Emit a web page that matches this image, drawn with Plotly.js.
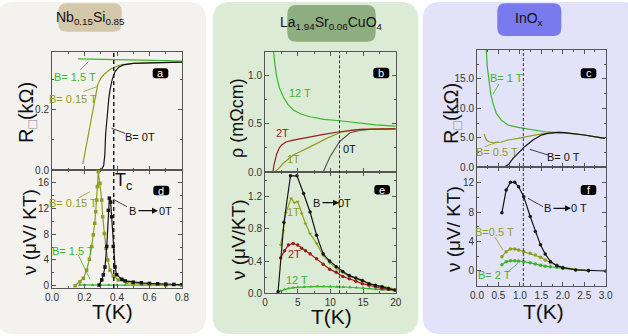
<!DOCTYPE html>
<html><head><meta charset="utf-8">
<script src="https://cdn.plot.ly/plotly-3.0.1.min.js"></script>
<style>html,body{margin:0;padding:0;background:#fff}#g{width:628px;height:336px}</style>
</head><body><div id="g"></div>
<script>
// ---------- data: panel a (Nb0.15Si0.85, R vs T) ----------
const a_T_0T   = [0.16,0.28,0.305,0.318,0.325,0.33,0.34,0.35,0.357,0.37,0.388,0.41,0.44,0.5,0.6,0.7,0.8];
const a_R_0T   = [0,0,0.002,0.015,0.05,0.12,0.19,0.24,0.267,0.3,0.328,0.342,0.35,0.355,0.357,0.358,0.359];
const a_T_015T = [0.19,0.21,0.23,0.25,0.265,0.28,0.29,0.30,0.32,0.34,0.36,0.39,0.43,0.5,0.6,0.7,0.8];
const a_R_015T = [0.02,0.08,0.14,0.2,0.245,0.28,0.295,0.305,0.318,0.328,0.336,0.344,0.351,0.355,0.357,0.358,0.359];
const a_T_15T  = [0.16,0.3,0.4,0.5,0.6,0.7,0.8];
const a_R_15T  = [0.37,0.368,0.366,0.365,0.364,0.364,0.363];
// ---------- panel d (Nb0.15Si0.85, Nernst) ----------
const d_T_0T   = [0.29,0.306,0.316,0.326,0.337,0.347,0.353,0.361,0.367,0.377,0.388,0.398,0.43,0.45,0.5,0.55,0.6,0.65,0.7,0.75,0.8];
const d_N_0T   = [0.1,0.9,1.7,2.9,6.1,11.7,13.6,13.0,10.7,6.1,2.9,1.7,1.0,0.75,0.55,0.45,0.35,0.3,0.25,0.2,0.15];
const d_T_015T = [0.142,0.172,0.193,0.213,0.23,0.244,0.254,0.263,0.269,0.275,0.279,0.285,0.295,0.306,0.312,0.322,0.332,0.343,0.357,0.377,0.408,0.46,0.5,0.6,0.7];
const d_N_015T = [0,0.6,1.15,2.4,4.1,6.1,7.9,9.7,11.5,13.3,15.4,17.7,15.9,13.3,10.7,8.1,5.8,4.0,2.4,1.5,0.9,0.5,0.35,0.2,0.1];
const d_T_15T  = [0.17,0.2,0.25,0.3,0.35,0.4,0.45,0.5,0.55,0.6,0.65,0.7,0.75,0.8];
const d_N_15T  = [0.12,0.1,0.1,0.1,0.1,0.1,0.09,0.09,0.08,0.08,0.08,0.07,0.07,0.07];
// ---------- panel b (La1.94Sr0.06CuO4, rho vs T) ----------
const b_T_12T = [1.1,1.27,1.5,1.79,2.2,2.8,3.5,4.33,5.5,6.9,9,11.4,14.5,17,20];
const b_R_12T = [1.4,1.26,1.12,0.985,0.87,0.778,0.7,0.64,0.6,0.571,0.545,0.53,0.503,0.488,0.475];
const b_T_2T  = [1.2,1.4,1.8,2.2,2.55,3.2,4.33,6.9,9,11.4,14.5,17,20];
const b_R_2T  = [0,0.08,0.19,0.25,0.28,0.31,0.33,0.365,0.39,0.416,0.44,0.444,0.445];
const b_T_1T  = [1.5,2,2.8,4.33,6.9,9.44,11.4,13.1,15,17,20];
const b_R_1T  = [0,0.03,0.09,0.175,0.26,0.348,0.406,0.43,0.44,0.444,0.445];
const b_T_0T  = [2,8.9,9.95,11.4,13,14.5,16,18,20];
const b_R_0T  = [0,0,0.158,0.313,0.406,0.43,0.44,0.444,0.445];
// ---------- panel e (La1.94Sr0.06CuO4, Nernst) ----------
const e_T_0T  = [2,2.9,3.9,4.9,5.9,6.9,7.9,8.9,9.9,10.9,11.9,12.9,13.9,14.9,15.9,16.9,17.9,18.9,19.9];
const e_N_0T  = [0.02,0.88,1.46,1.46,1.24,1.01,0.72,0.49,0.40,0.33,0.27,0.22,0.19,0.16,0.12,0.10,0.08,0.06,0.04];
const e_T_1T  = [2.4,2.8,3.2,4,4.5,5,5.6,6.2,6.9,7.9,8.9,9.9,10.9,11.9,12.9,13.9,14.9,15.9,16.9,17.9,18.9,19.9];
const e_N_1T  = [0.6,0.78,1.0,1.18,1.125,1.14,0.99,0.865,0.74,0.62,0.47,0.38,0.31,0.26,0.21,0.18,0.15,0.12,0.1,0.09,0.07,0.05];
const e_T_2T  = [2.4,3,3.6,4.3,5,5.6,6.2,6.9,7.9,8.9,9.9,10.9,11.9,12.9,13.9,14.9,15.9,16.9,17.9,18.9,19.9];
const e_N_2T  = [0.44,0.53,0.6,0.62,0.6,0.56,0.53,0.49,0.43,0.36,0.3,0.26,0.21,0.18,0.15,0.12,0.1,0.08,0.06,0.05,0.04];
const e_T_12T = [2.4,3,3.6,4.3,5,6,7,8,9,10,11,12,13,14,15,16,17,18,19,20];
const e_N_12T = [0.03,0.05,0.06,0.07,0.075,0.08,0.082,0.085,0.085,0.083,0.08,0.078,0.075,0.07,0.065,0.06,0.05,0.045,0.04,0.03];
// ---------- panel c (InOx, R vs T) ----------
const c_T_1T  = [0.2,0.217,0.24,0.272,0.319,0.373,0.45,0.567,0.72,0.956,1.266,1.58,1.97,2.5,2.98];
const c_R_1T  = [21,19.9,17.05,14.8,12.5,10.85,9.15,8.0,7.17,6.78,6.44,6.03,5.87,5.48,4.92];
const c_T_05T = [0.163,0.217,0.295,0.41,0.567,0.72,0.956,1.11,1.34,1.58,1.9,2.04,2.5,2.98];
const c_R_05T = [5.64,4.63,4.29,4.17,4.29,4.63,4.92,5.19,5.47,5.76,5.93,5.87,5.48,4.92];
const c_T_0T  = [0.163,0.645,0.739,0.84,0.956,1.11,1.305,1.5,1.65,1.9,2.04,2.5,2.98];
const c_R_0T  = [0,0.1,0.5,1.52,2.37,3.5,4.63,5.47,5.76,5.93,5.87,5.48,4.92];
// ---------- panel f (InOx, Nernst) ----------
const f_T_0T  = [0.58,0.68,0.78,0.88,0.97,1.09,1.24,1.36,1.48,1.59,1.71,1.86,2.0,2.3,2.6,3.0];
const f_N_0T  = [7.9,11,12.05,12.05,11.45,10.1,7.4,5.35,3.55,2.3,1.3,0.7,0.45,0.15,0.05,0];
const f_T_05T = [0.58,0.68,0.78,0.88,0.97,1.09,1.24,1.36,1.48,1.59,1.71,1.86,2.0,2.6];
const f_N_05T = [1.95,2.63,3.0,3.0,2.85,2.63,2.4,2.17,1.86,1.5,1.13,0.82,0.5,0.02];
const f_T_2T  = [0.58,0.68,0.78,0.88,0.97,1.09,1.24,1.36,1.48,1.59,1.71,1.86,2.0,2.6];
const f_N_2T  = [0.85,1.27,1.4,1.4,1.36,1.27,1.13,0.95,0.77,0.63,0.57,0.5,0.35,0.02];
// critical temperatures (dashed lines)
const TC_NbSi = 0.38, TC_LSCO = 11.4, TC_InOx = 1.08;

// ---------- styling ----------
const W=628, H=336;
const px = x => x/W, py = y => 1 - y/H;
const FONT = "Liberation Sans Narrow, Arial Narrow, Liberation Sans, Arial, sans-serif";
const BLACK='#151515', OLIVE='#8e9e1e', GREEN='#3cb52c', RED='#9a1d1d', GRAY='#5a5a5a';

function tr(xa, ya, x, y, color, marker, w){
  const t = {x:x, y:y, xaxis:xa, yaxis:ya, type:'scatter', mode: marker ? 'lines+markers':'lines',
    line:{color:color, width: w||1.2}, hoverinfo:'skip', showlegend:false};
  if (marker) t.marker = {color:color, size:3.5, symbol:marker};
  return t;
}
const data = [
  tr('x','y',a_T_15T,a_R_15T,GREEN),
  tr('x','y',a_T_015T,a_R_015T,OLIVE),
  tr('x','y',a_T_0T,a_R_0T,BLACK),
  tr('x2','y2',d_T_15T,d_N_15T,GREEN,'triangle-up'),
  tr('x2','y2',d_T_015T,d_N_015T,OLIVE,'square'),
  tr('x2','y2',d_T_0T,d_N_0T,BLACK,'square'),
  tr('x3','y3',b_T_12T,b_R_12T,GREEN),
  tr('x3','y3',b_T_0T,b_R_0T,GRAY),
  tr('x3','y3',b_T_1T,b_R_1T,OLIVE),
  tr('x3','y3',b_T_2T,b_R_2T,RED),
  tr('x4','y4',e_T_12T,e_N_12T,GREEN,'triangle-up'),
  tr('x4','y4',e_T_2T,e_N_2T,RED,'circle'),
  tr('x4','y4',e_T_1T,e_N_1T,OLIVE,'triangle-down'),
  tr('x4','y4',e_T_0T,e_N_0T,BLACK,'circle'),
  tr('x5','y5',c_T_1T,c_R_1T,GREEN),
  tr('x5','y5',c_T_05T,c_R_05T,OLIVE),
  tr('x5','y5',c_T_0T,c_R_0T,BLACK),
  tr('x6','y6',f_T_2T,f_N_2T,GREEN,'circle'),
  tr('x6','y6',f_T_05T,f_N_05T,OLIVE,'circle'),
  tr('x6','y6',f_T_0T,f_N_0T,BLACK,'circle'),
];

function ax(dom, range, dtick, minor, showlabels, anchor, extra){
  return Object.assign({domain:dom, range:range, dtick:dtick, tick0:0, showgrid:false, zeroline:false,
    showline:true, linecolor:'#555', linewidth:1, mirror:'ticks', ticks:'inside', ticklen:4, tickcolor:'#555',
    minor:{ticks:'inside', dtick:minor, ticklen:2, tickcolor:'#555'},
    showticklabels:showlabels, tickfont:{family:'Liberation Sans, Arial, sans-serif', size:10, color:'#333'},
    anchor:anchor, fixedrange:true}, extra||{});
}
const XA=[px(52),px(182)], XB=[px(265),px(395.7)], XC=[px(477),px(605.7)];
const layout = {
  width:W, height:H, margin:{l:0,r:0,t:0,b:0}, paper_bgcolor:'#ffffff', plot_bgcolor:'rgba(0,0,0,0)',
  showlegend:false, font:{family:FONT},
  xaxis: ax(XA,[0,0.8],0.2,0.1,false,'y'),
  yaxis: ax([py(170),py(52)],[0,0.393],0.2,0.1,true,'x',{tickformat:'.1f'}),
  xaxis2: ax(XA,[0,0.8],0.2,0.1,true,'y2',{tickformat:'.1f'}),
  yaxis2: ax([py(288),py(170)],[-0.357,17.97],4,2,true,'x2'),
  xaxis3: ax(XB,[0,20],5,2.5,false,'y3'),
  yaxis3: ax([py(172),py(51.7)],[0,1.244],0.5,0.25,true,'x3',{tickformat:'.1f'}),
  xaxis4: ax(XB,[0,20],5,2.5,true,'y4'),
  yaxis4: ax([py(293.3),py(172)],[0,1.507],0.4,0.2,true,'x4',{tickformat:'.1f'}),
  xaxis5: ax(XC,[0,3],0.5,0.25,false,'y5'),
  yaxis5: ax([py(167.3),py(50)],[0,19.9],5,2.5,true,'x5',{tickformat:'.1f'}),
  xaxis6: ax(XC,[0,3],0.5,0.25,true,'y6',{tickformat:'.1f'}),
  yaxis6: ax([py(286),py(167.3)],[-2.04,14.09],4,2,true,'x6'),
  shapes:[], annotations:[]
};

function rr(x0,y0,x1,y1,r){
  const P=(x,y)=>px(x).toFixed(5)+','+py(y).toFixed(5);
  return 'M'+P(x0+r,y0)+' L'+P(x1-r,y0)+' Q'+P(x1,y0)+' '+P(x1,y0+r)+' L'+P(x1,y1-r)+' Q'+P(x1,y1)+' '+P(x1-r,y1)+
         ' L'+P(x0+r,y1)+' Q'+P(x0,y1)+' '+P(x0,y1-r)+' L'+P(x0,y0+r)+' Q'+P(x0,y0)+' '+P(x0+r,y0)+' Z';
}
function box(x0,y0,x1,y1,r,fill){
  layout.shapes.push({type:'path', xref:'paper', yref:'paper', path:rr(x0,y0,x1,y1,r), fillcolor:fill, line:{width:0}, layer:'below'});
}
function seg(x0,y0,x1,y1,color,w){
  layout.shapes.push({type:'line', xref:'paper', yref:'paper', x0:px(x0), y0:py(y0), x1:px(x1), y1:py(y1), line:{color:color, width:w||0.8}});
}
function txt(x,y,text,size,color,opt){
  layout.annotations.push(Object.assign({xref:'paper', yref:'paper', x:px(x), y:py(y), text:text, showarrow:false,
    xanchor:'center', yanchor:'middle', font:{family:FONT, size:size, color:color||'#111'}}, opt||{}));
}
function arrow(x0,x1,y,color){
  layout.annotations.push({xref:'paper', yref:'paper', x:px(x1), y:py(y), ax:x0-x1, ay:0, text:'', showarrow:true,
    arrowhead:2, arrowsize:1, arrowwidth:1.2, arrowcolor:color||'#111'});
}

// panel backgrounds
box(-4,2,206,334,18,'#f3f2ee');
box(212.7,2,418.3,334,18,'#dcebd6');
box(422.7,2,640,334,18,'#e2e2f8');
// badges
box(58.3,3.3,121.7,31.7,8,'#d4c8aa');
box(287.3,5,375.7,41.7,9,'#8fae80');
box(497.3,3.3,561.3,36,8,'#7a7aef');
txt(90,18,'Nb<sub>0.15</sub>Si<sub>0.85</sub>',14,'#111');
txt(331.5,23,'La<sub>1.94</sub>Sr<sub>0.06</sub>CuO<sub>4</sub>',14,'#111');
txt(529.3,19,'InO<sub>x</sub>',14,'#111');

// dashed Tc lines
layout.shapes.push({type:'line', xref:'x', yref:'paper', x0:TC_NbSi, x1:TC_NbSi, y0:py(288), y1:py(52), line:{color:'#111', width:1.4, dash:'4px,3px'}});
layout.shapes.push({type:'line', xref:'x3', yref:'paper', x0:TC_LSCO, x1:TC_LSCO, y0:py(293.3), y1:py(51.7), line:{color:'#222', width:0.9, dash:'3px,2px'}});
layout.shapes.push({type:'line', xref:'x5', yref:'paper', x0:TC_InOx, x1:TC_InOx, y0:py(286), y1:py(50), line:{color:'#222', width:0.9, dash:'3px,2px'}});

// panel letter tags
[['a',152.7,68.3,168.3,78.3],['d',153.3,185.7,169.3,195.3],['b',373.3,67.7,389.3,78.3],
 ['e',374.3,185,390,194.5],['c',580.7,68.3,596.3,78.3],['f',580.7,185,596.3,195]].forEach(t=>{
  box(t[1],t[2],t[3],t[4],3,'#000');
  layout.shapes[layout.shapes.length-1].layer='above';
  txt((t[1]+t[3])/2,(t[2]+t[4])/2,t[0],11,'#fff');
});

// axis titles
const SQ='<span style="color:#8a8a8a">□</span>';
txt(27,113,'R<sub>'+SQ+'</sub>(kΩ)',20,'#111',{textangle:-90});
txt(29,232,'ν (μV/ KT)',19,'#111',{textangle:-90});
txt(237,118,'ρ (mΩcm)',18,'#111',{textangle:-90});
txt(238,240,'ν (μV/KT)',19,'#111',{textangle:-90});
txt(452,113,'R<sub>'+SQ+'</sub>(kΩ)',20,'#111',{textangle:-90});
txt(453,229,'ν (μV/ KT)',19,'#111',{textangle:-90});
txt(112.5,311,'T(K)',21,'#111');
txt(331.7,316,'T(K)',21,'#111');
txt(543,311,'T(K)',21,'#111');

// curve labels panel a
txt(75,76.7,'B= 1.5 T',11,GREEN); seg(80,70,88.3,61.7,GREEN);
txt(72.5,99.3,'B= 0.15 T',11,OLIVE); seg(83.3,91.7,96.7,86.7,OLIVE);
txt(140,136.7,'B= 0T',11,'#111'); seg(125,133.3,111.7,128.3,'#111');
// panel d
txt(123,181,'T<sub>c</sub>',18,'#111');
txt(72.5,203.3,'B= 0.15 T',11,OLIVE); seg(78.3,198,90,191.7,OLIVE);
txt(72.5,250.7,'B= 1.5 T',11,GREEN); seg(78.3,255,90,279.3,GREEN);
txt(132,210.7,'B',11,'#111'); arrow(137,158,210.7); txt(165,210.7,'0T',11,'#111'); seg(113.3,199.3,127,206.7,'#111');
// panel b
txt(300,93.3,'12 T',11,GREEN);
txt(282.7,133.3,'2T',11,RED);
txt(293.3,159.3,'1T',11,OLIVE);
txt(349.3,149.3,'0T',11,'#111');
// panel e
txt(316,202.7,'B',11,'#111'); arrow(321,339,202.7); txt(344,202.7,'0T',11,'#111');
txt(293,211.7,'1T',11,OLIVE);
txt(294,254,'2T',11,RED);
txt(297.3,280,'12 T',11,GREEN);
// panel c
txt(506.7,77.7,'B= 1 T',11,GREEN); seg(499,84,493,94.3,GREEN);
txt(496.7,151.7,'B= 0.5 T',11,OLIVE); seg(484.7,146.7,498,141.7,OLIVE);
txt(563,156.7,'B= 0 T',11,'#111'); seg(548,155,529.7,149.3,'#111');
// panel f
txt(547.3,208.3,'B',11,'#111'); arrow(552,571,208.3); txt(579,208.3,'0 T',11,'#111'); seg(528,198.3,543,206.7,'#111');
txt(494.7,232,'B=0.5 T',11,OLIVE); seg(494.7,236.7,503,250,OLIVE);
txt(494.4,275,'B= 2 T',11,GREEN); seg(508,271.7,518,263.3,GREEN);

Plotly.newPlot('g', data, layout, {staticPlot:true, displayModeBar:false});
</script></body></html>
